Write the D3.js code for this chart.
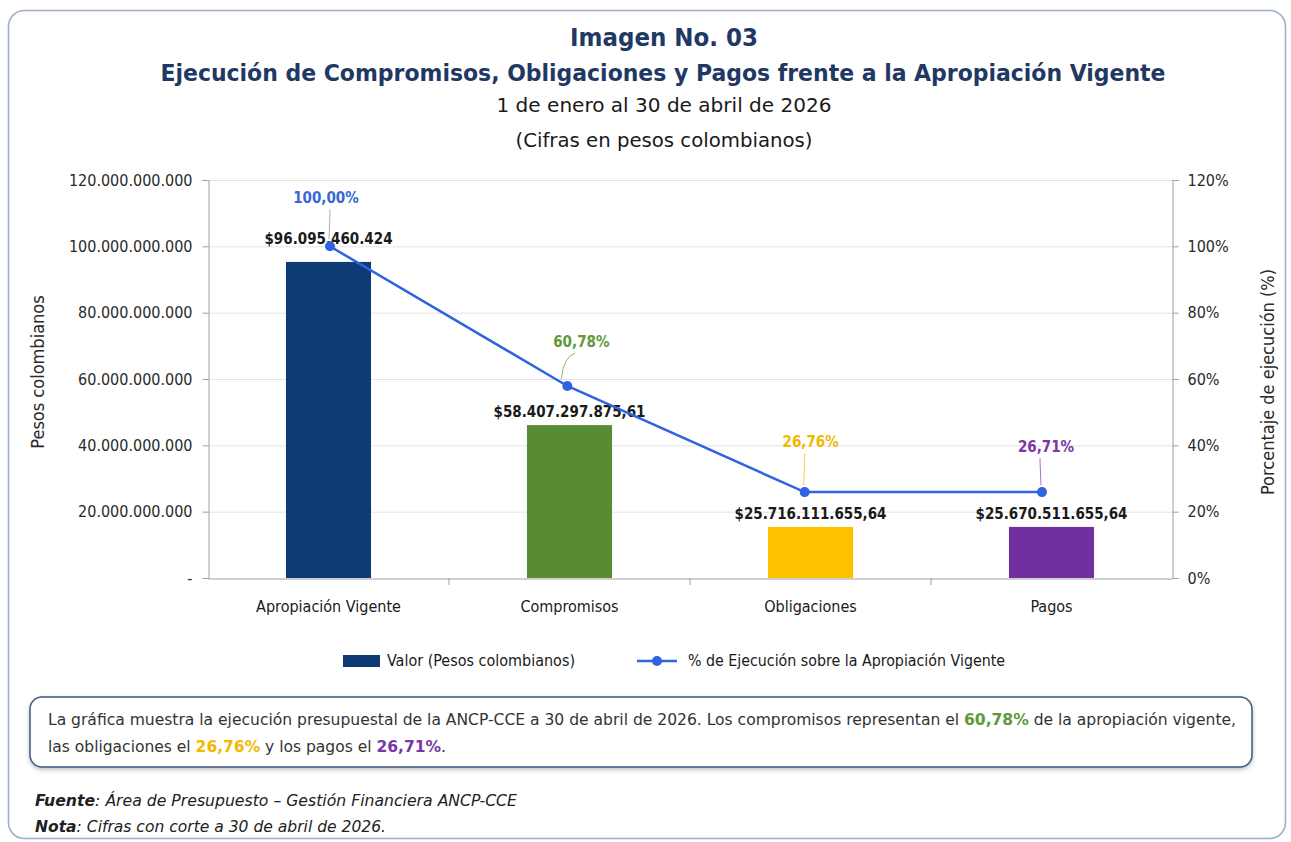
<!DOCTYPE html>
<html><head><meta charset="utf-8">
<script src="https://cdn.jsdelivr.net/npm/d3@7"></script>
<style>body{margin:0;background:#fff}svg{display:block}</style>
</head><body>
<svg id="c" width="1291" height="842"></svg>
<script>
// ---- data ----
const categories = ["Apropiación Vigente", "Compromisos", "Obligaciones", "Pagos"];
const barValues = [95.3e9, 46.1e9, 15.4e9, 15.4e9];            // bar heights as drawn
const valueLabels = ["$96.095.460.424", "$58.407.297.875,61", "$25.716.111.655,64", "$25.670.511.655,64"];
const pctValues = [100, 57.9, 25.9, 25.9];                      // line points as drawn
const pctLabels = ["100,00%", "60,78%", "26,76%", "26,71%"];
const leftTicks = [0, 20e9, 40e9, 60e9, 80e9, 100e9, 120e9];
const leftTickLabels = ["-", "20.000.000.000", "40.000.000.000", "60.000.000.000", "80.000.000.000", "100.000.000.000", "120.000.000.000"];
const rightTicks = [0, 20, 40, 60, 80, 100, 120];
const rightTickLabels = ["0%", "20%", "40%", "60%", "80%", "100%", "120%"];

const barColors = ["#0e3a75", "#578c34", "#ffc000", "#7030a0"];
const pctColors = ["#3568d4", "#5e9a3a", "#f2b705", "#7a35a8"];
const lineColor = "#2f63e0";
const FONT = "'DejaVu Sans Condensed','DejaVu Sans',sans-serif";

const svg = d3.select("#c").style("font-family", FONT);
const defs = svg.append("defs");
const f = defs.append("filter").attr("id", "sh").attr("x", "-5%").attr("y", "-20%").attr("width", "110%").attr("height", "150%");
f.append("feDropShadow").attr("dx", 0).attr("dy", 2).attr("stdDeviation", 2).attr("flood-color", "#000").attr("flood-opacity", 0.25);

function fit(sel, w) {
  sel.each(function () {
    const l = this.getComputedTextLength();
    if (Math.abs(l - w) > 2) d3.select(this).attr("textLength", w).attr("lengthAdjust", "spacingAndGlyphs");
  });
  return sel;
}

// outer frame
svg.append("rect").attr("x", 8.5).attr("y", 10.5).attr("width", 1277).attr("height", 828).attr("rx", 16)
  .attr("fill", "#fff").attr("stroke", "#9db0c8").attr("stroke-width", 1.6);

// titles
const title = svg.append("g").attr("text-anchor", "middle");
fit(title.append("text").attr("x", 664).attr("y", 46).attr("font-size", 25).attr("font-weight", "bold").attr("fill", "#1f3864").text("Imagen No. 03"), 188);
fit(title.append("text").attr("x", 663).attr("y", 81).attr("font-size", 23).attr("font-weight", "bold").attr("fill", "#1f3864")
  .text("Ejecución de Compromisos, Obligaciones y Pagos frente a la Apropiación Vigente"), 1005);
fit(title.append("text").attr("x", 664).attr("y", 112).attr("font-size", 20).attr("fill", "#1a1a1a").text("1 de enero al 30 de abril de 2026"), 335);
fit(title.append("text").attr("x", 664).attr("y", 147).attr("font-size", 20).attr("fill", "#1a1a1a").text("(Cifras en pesos colombianos)"), 297);

// scales
const x = d3.scaleBand().domain(categories).range([208, 1172]).paddingInner(0.647).paddingOuter(0.3235);
const xl = d3.scalePoint().domain(categories).range([330, 1042]);   // line markers as placed in the original
const y = d3.scaleLinear().domain([0, 120e9]).range([578, 180]);
const yp = d3.scaleLinear().domain([0, 120]).range([578, 180]);
const cx = c => x(c) + x.bandwidth() / 2;

// gridlines
svg.append("g").selectAll("line").data(leftTicks.slice(1)).join("line")
  .attr("x1", 208).attr("x2", 1172).attr("y1", d => y(d) + 0.5).attr("y2", d => y(d) + 0.5)
  .attr("stroke", "#e4e4e4").attr("stroke-width", 1);

// left axis
const ax = svg.append("g").attr("transform", "translate(208.5,0)")
  .call(d3.axisLeft(y).tickValues(leftTicks).tickFormat((d, i) => leftTickLabels[i]).tickSize(6).tickPadding(10));
ax.select(".domain").attr("stroke", "#a0a0a0");
ax.selectAll(".tick line").attr("stroke", "#a0a0a0");
ax.selectAll(".tick text").attr("font-family", FONT).attr("font-size", 16).attr("fill", "#2a2a2a");

// right axis
const ar = svg.append("g").attr("transform", "translate(1172.5,0)")
  .call(d3.axisRight(yp).tickValues(rightTicks).tickFormat((d, i) => rightTickLabels[i]).tickSize(6).tickPadding(9));
ar.select(".domain").attr("stroke", "#a0a0a0");
ar.selectAll(".tick line").attr("stroke", "#a0a0a0");
ar.selectAll(".tick text").attr("font-family", FONT).attr("font-size", 16).attr("fill", "#2a2a2a");

// bottom axis
const ab = svg.append("g").attr("transform", "translate(0,578.5)")
  .call(d3.axisBottom(x).tickSize(0).tickPadding(22));
ab.select(".domain").attr("stroke", "#a0a0a0");
ab.selectAll(".tick text").attr("font-family", FONT).attr("font-size", 16).attr("fill", "#1a1a1a");
svg.append("g").selectAll("line").data(categories.slice(1)).join("line")
  .attr("x1", d => x(d) - x.step() * x.paddingInner() / 2).attr("x2", d => x(d) - x.step() * x.paddingInner() / 2)
  .attr("y1", 578).attr("y2", 585).attr("stroke", "#a0a0a0");

// axis titles
svg.append("text").attr("transform", "translate(44,372) rotate(-90)").attr("text-anchor", "middle")
  .attr("font-size", 18).attr("fill", "#2a2a2a").text("Pesos colombianos");
svg.append("text").attr("transform", "translate(1274,382) rotate(-90)").attr("text-anchor", "middle")
  .attr("font-size", 18).attr("fill", "#2a2a2a").text("Porcentaje de ejecución (%)");

// bars
svg.append("g").selectAll("rect").data(categories).join("rect")
  .attr("x", d => x(d)).attr("width", x.bandwidth())
  .attr("y", (d, i) => y(barValues[i])).attr("height", (d, i) => y(0) - y(barValues[i]))
  .attr("fill", (d, i) => barColors[i]);

// value labels
const valOff = [18, 8, 8, 8];
svg.append("g").attr("text-anchor", "middle").selectAll("text").data(categories).join("text")
  .attr("x", d => cx(d)).attr("y", (d, i) => y(barValues[i]) - valOff[i])
  .attr("font-size", 15).attr("font-weight", "bold").attr("fill", "#1a1a1a")
  .text((d, i) => valueLabels[i]);

// line
const line = d3.line().x((d, i) => xl(categories[i])).y(d => yp(d));
svg.append("path").datum(pctValues).attr("d", line).attr("fill", "none").attr("stroke", lineColor).attr("stroke-width", 2.5);
svg.append("g").selectAll("circle").data(pctValues).join("circle")
  .attr("cx", (d, i) => xl(categories[i])).attr("cy", d => yp(d)).attr("r", 5).attr("fill", lineColor);

// pct labels + leader lines
const pdx = [-4, 14, 6, 4];
const pdy = [-49, -45, -51, -46];
const pl = svg.append("g");
pctValues.forEach((v, i) => {
  const px = xl(categories[i]), py = yp(v);
  const lx = px + pdx[i], ly = py + pdy[i];
  const sx = i === 0 ? px : lx - 6;
  pl.append("path")
    .attr("d", `M${sx},${ly + 12} Q${sx - (i === 1 ? 12 : 0)},${ly + 16} ${px - (i === 1 ? 6 : 1)},${py - 7}`)
    .attr("fill", "none").attr("stroke", i === 0 ? "#8a8a8a" : pctColors[i]).attr("stroke-opacity", 0.7).attr("stroke-width", 1);
  pl.append("text").attr("x", lx).attr("y", ly + 6).attr("text-anchor", "middle")
    .attr("font-size", 15).attr("font-weight", "bold").attr("fill", pctColors[i]).text(pctLabels[i]);
});

// legend
const lg = svg.append("g");
lg.append("rect").attr("x", 343).attr("y", 655).attr("width", 37).attr("height", 12).attr("fill", barColors[0]);
fit(lg.append("text").attr("x", 387).attr("y", 666).attr("font-size", 15).attr("fill", "#1a1a1a").text("Valor (Pesos colombianos)"), 188);
lg.append("line").attr("x1", 637).attr("x2", 677).attr("y1", 661).attr("y2", 661).attr("stroke", lineColor).attr("stroke-width", 2.5);
lg.append("circle").attr("cx", 657).attr("cy", 661).attr("r", 5).attr("fill", lineColor);
fit(lg.append("text").attr("x", 688).attr("y", 666).attr("font-size", 15).attr("fill", "#1a1a1a").text("% de Ejecución sobre la Apropiación Vigente"), 317);

// text box
svg.append("rect").attr("x", 30).attr("y", 697).attr("width", 1222).attr("height", 70).attr("rx", 12)
  .attr("fill", "#fff").attr("stroke", "#3f5684").attr("stroke-width", 1.5).attr("filter", "url(#sh)");
const t1 = svg.append("text").attr("x", 48).attr("y", 725).attr("font-size", 16).attr("fill", "#333");
t1.append("tspan").text("La gráfica muestra la ejecución presupuestal de la ANCP-CCE a 30 de abril de 2026. Los compromisos representan el ");
t1.append("tspan").attr("font-weight", "bold").attr("fill", pctColors[1]).text(pctLabels[1]);
t1.append("tspan").text(" de la apropiación vigente,");
fit(t1, 1188);
const t2 = svg.append("text").attr("x", 48).attr("y", 752).attr("font-size", 16).attr("fill", "#333");
t2.append("tspan").text("las obligaciones el ");
t2.append("tspan").attr("font-weight", "bold").attr("fill", pctColors[2]).text(pctLabels[2]);
t2.append("tspan").text(" y los pagos el ");
t2.append("tspan").attr("font-weight", "bold").attr("fill", pctColors[3]).text(pctLabels[3]);
t2.append("tspan").text(".");
fit(t2, 398);

// footer
const f1 = svg.append("text").attr("x", 35).attr("y", 806).attr("font-size", 15).attr("font-style", "italic").attr("fill", "#222");
f1.append("tspan").attr("font-weight", "bold").text("Fuente");
f1.append("tspan").text(": Área de Presupuesto – Gestión Financiera ANCP-CCE");
fit(f1, 482);
const f2 = svg.append("text").attr("x", 35).attr("y", 832).attr("font-size", 15).attr("font-style", "italic").attr("fill", "#222");
f2.append("tspan").attr("font-weight", "bold").text("Nota");
f2.append("tspan").text(": Cifras con corte a 30 de abril de 2026.");
fit(f2, 351);
</script>
</body></html>
